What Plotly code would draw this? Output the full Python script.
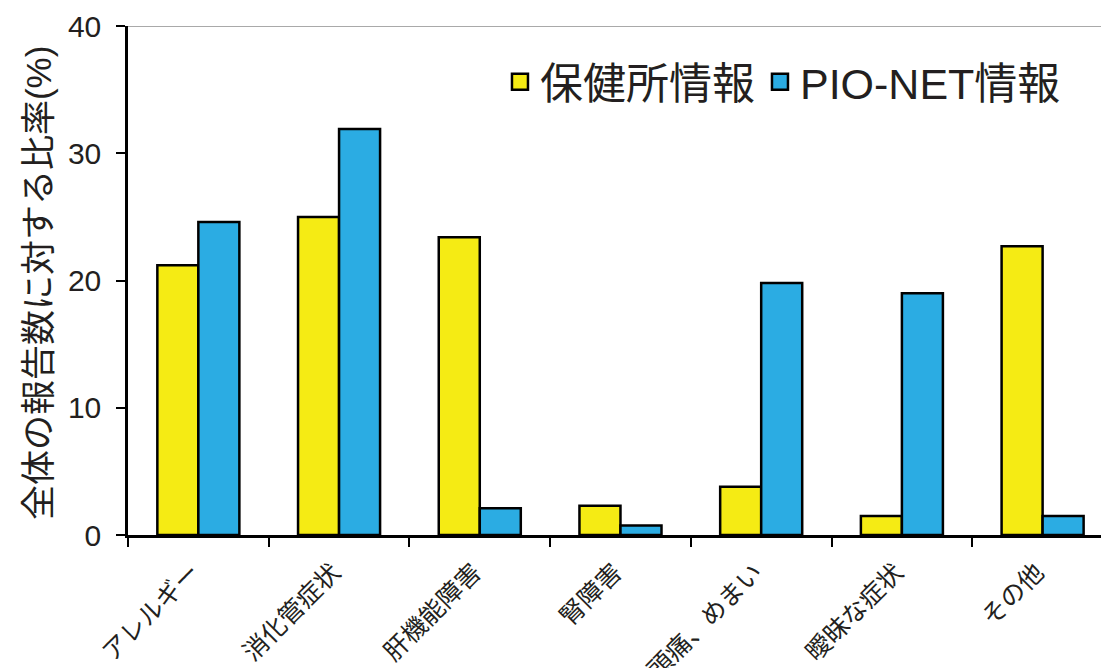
import plotly.graph_objects as go

categories = ["アレルギー", "消化管症状", "肝機能障害", "腎障害", "頭痛、めまい", "曖昧な症状", "その他"]
hokenjo = [21.2, 25.0, 23.4, 2.3, 3.8, 1.5, 22.7]
pionet = [24.6, 31.9, 2.1, 0.75, 19.8, 19.0, 1.5]
series_names = ["保健所情報", "PIO-NET情報"]
series_colors = ["#F5EB14", "#2BACE3"]
y_title = "全体の報告数に対する比率(%)"
y_ticks = [0, 10, 20, 30, 40]

FONT = "Arial, 'Liberation Sans', 'Noto Sans CJK JP', sans-serif"
TXT = "#231F20"

fig = go.Figure()
for vals, name, col in zip([hokenjo, pionet], series_names, series_colors):
    fig.add_trace(go.Bar(x=categories, y=vals, name=name, showlegend=False,
                         marker=dict(color=col, line=dict(color="black", width=2.5))))
# legend entries (larger square swatches)
for name, col in zip(series_names, series_colors):
    fig.add_trace(go.Scatter(x=[categories[0]], y=[None], name=name, mode="markers",
                             marker=dict(symbol="square", size=16, color=col,
                                         line=dict(color="black", width=2.5)),
                             hoverinfo="skip"))

fig.update_layout(
    width=1101, height=668,
    margin=dict(l=128, r=0, t=26, b=133, pad=0),
    plot_bgcolor="white", paper_bgcolor="white",
    barmode="group", bargap=0.417, bargroupgap=0,
    font=dict(family=FONT, color=TXT),
    legend=dict(orientation="h", x=0.964, xanchor="right", y=0.958, yanchor="top",
                font=dict(size=43, family=FONT, color=TXT),
                bgcolor="rgba(0,0,0,0)", itemwidth=30, tracegroupgap=0),
    showlegend=True,
)
fig.update_xaxes(
    range=[-0.5, 6.415], showline=True, linecolor="black", linewidth=2.5,
    ticks="outside", tickson="boundaries", ticklen=9, tickwidth=2, tickcolor="black",
    tickangle=-45, tickfont=dict(size=25, family=FONT, color=TXT),
    ticklabelstandoff=10, ticklabelshift=-6, automargin=False,
    showgrid=False, zeroline=False,
)
fig.update_yaxes(
    range=[0, 40], tickvals=y_ticks, showline=True, linecolor="black", linewidth=2.5,
    ticks="outside", ticklen=9, tickwidth=2, tickcolor="black",
    tickfont=dict(size=30, family=FONT, color=TXT), ticklabelstandoff=9,
    automargin=False, showgrid=False, zeroline=False,
)
fig.add_annotation(text=y_title, xref="paper", yref="paper", x=-0.0925, y=0.495,
                   xanchor="center", yanchor="middle", textangle=-90, showarrow=False,
                   font=dict(size=35, family=FONT, color=TXT))
fig.add_shape(type="line", xref="paper", yref="y", x0=0, x1=1, y0=40, y1=40,
              line=dict(color="#555555", width=1))

fig.write_html("out.html")
